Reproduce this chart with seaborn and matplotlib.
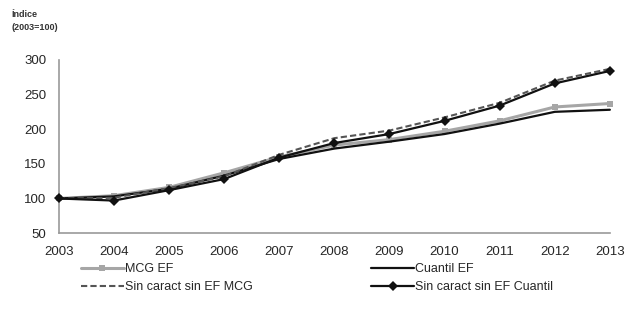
import pandas as pd
import matplotlib
matplotlib.use("Agg")
import matplotlib.pyplot as plt
import seaborn as sns

sns.set_theme(style="white")
plt.rcParams['font.family'] = ['Liberation Sans', 'DejaVu Sans']

# data
years = [2003, 2004, 2005, 2006, 2007, 2008, 2009, 2010, 2011, 2012, 2013]
mcg_ef = [100, 104, 116, 137, 160, 177, 185, 197, 212, 232, 237]
cuantil_ef = [100, 103, 114, 133, 157, 172, 182, 193, 208, 225, 228]
sin_mcg = [100, 101, 115, 132, 163, 187, 198, 217, 238, 270, 287]
sin_cuantil = [100, 97, 112, 128, 159, 180, 193, 212, 234, 266, 284]

names = ["MCG EF", "Cuantil EF", "Sin caract sin EF MCG", "Sin caract sin EF Cuantil"]

df = pd.DataFrame({"year": years * 4,
                   "value": mcg_ef + cuantil_ef + sin_mcg + sin_cuantil,
                   "serie": [n for n in names for _ in years]})

styles = {
    "MCG EF": dict(color="#a6a6a6", lw=2.2, marker="s", ms=4, ls="-"),
    "Cuantil EF": dict(color="#111111", lw=1.6, marker=None, ms=0, ls="-"),
    "Sin caract sin EF MCG": dict(color="#555555", lw=1.5, marker=None, ms=0, ls=(0, (3, 1.5))),
    "Sin caract sin EF Cuantil": dict(color="#111111", lw=1.6, marker="D", ms=5, ls="-"),
}

fig = plt.figure(figsize=(6.32, 3.27), dpi=100)
ax = fig.add_axes([0.093, 0.287, 0.872, 0.530])

for n in names:
    st = styles[n]
    sns.lineplot(data=df[df.serie == n], x="year", y="value", ax=ax,
                 color=st["color"], linewidth=st["lw"], linestyle=st["ls"],
                 marker=st["marker"], markersize=st["ms"], markeredgewidth=0,
                 label=n, clip_on=False, zorder=3)

ax.set_xlim(2003, 2013)
ax.set_ylim(50, 300)
ax.set_xticks(years)
ax.set_yticks([50, 100, 150, 200, 250, 300])
ax.set_xlabel("")
ax.set_ylabel("")
ax.tick_params(axis="x", direction="in", length=5, color="#888888", labelsize=9.5, pad=9)
ax.tick_params(axis="y", length=0, labelsize=9.5, pad=9)
for s in ["top", "right"]:
    ax.spines[s].set_visible(False)
for s in ["left", "bottom"]:
    ax.spines[s].set_color("#999999")
    ax.spines[s].set_linewidth(1.2)

fig.text(0.018, 0.935, "Índice\n(2003=100)", fontsize=6.5, fontweight="bold",
         ha="left", va="center", color="#333333", linespacing=1.6)

# legend filled row-wise like the original
h, l = ax.get_legend_handles_labels()
order = [0, 2, 1, 3]
ax.legend([h[i] for i in order], [l[i] for i in order],
          loc="upper left", bbox_to_anchor=(0.02, -0.11), ncol=2, frameon=False,
          fontsize=9, handlelength=3.4, handletextpad=0.1, columnspacing=9.5,
          labelspacing=0.45)

fig.savefig("out.png", dpi=100)
